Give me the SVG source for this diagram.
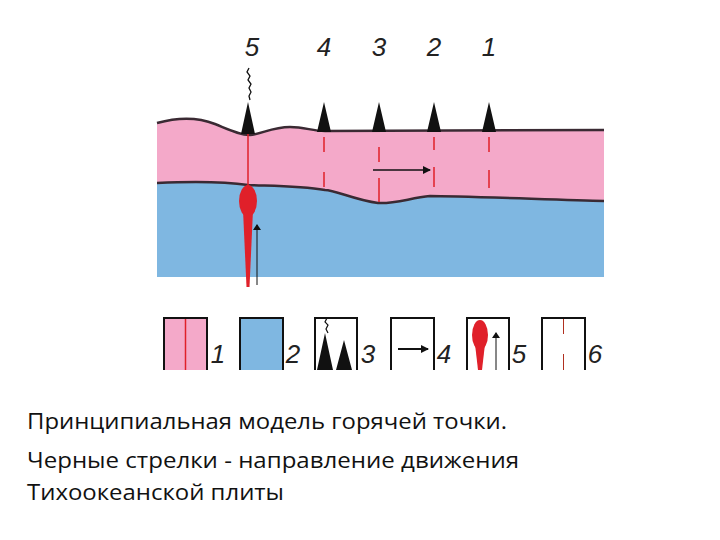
<svg xmlns="http://www.w3.org/2000/svg" width="720" height="540" viewBox="0 0 720 540">
<style>
.num{font-family:"Liberation Sans Narrow","Liberation Sans",sans-serif;font-style:italic;font-size:26px;fill:#222}
.cap{font-family:"Open Sans","Liberation Sans",sans-serif;font-size:21px;fill:#111}
.red{stroke:#e0202a;stroke-width:1.5;fill:none}
.box{stroke:#111;stroke-width:2;fill:none}
.vol{fill:#111}
</style>
<defs>
<marker id="ah" markerWidth="8" markerHeight="8" refX="7" refY="4" orient="auto" markerUnits="userSpaceOnUse"><path d="M0,0 L8,4 L0,8 Z" fill="#111"/></marker>
<marker id="ahs" markerWidth="6" markerHeight="8" refX="5" refY="4" orient="auto" markerUnits="userSpaceOnUse"><path d="M0,0 L6,4 L0,8 Z" fill="#111"/></marker>
</defs>
<g id="mantle"><rect x="157" y="180" width="447" height="97" fill="#7fb7e1"/></g>
<g id="plate">
<path d="M157,123 C175,118 195,116 215,124 C230,130 240,135 250,135 C262,134 272,127 290,127 C305,127 312,131 325,131 L604,130 L604,201 C560,200 460,196 430,196 C410,198 395,204 378,203 C355,200 335,190 325,190 C300,186 270,186 248,185 C220,181 180,182 157,183 Z" fill="#f4a9c9"/>
<path d="M157,123 C175,118 195,116 215,124 C230,130 240,135 250,135 C262,134 272,127 290,127 C305,127 312,131 325,131 L604,130" stroke="#3a2a33" stroke-width="2.5" fill="none"/>
<path d="M157,183 C180,182 220,181 248,185 C270,186 300,186 325,190 C335,190 355,200 378,203 C395,204 410,198 430,196 C460,196 560,200 604,201" stroke="#3a2a33" stroke-width="2.5" fill="none"/>
</g>
<g id="redlines">
<line class="red" x1="248" y1="133" x2="248" y2="190"/>
<path class="red" d="M324,137v15M324,172v15M379,147v15M379,178v24M434,137v13M434,167v20M489,137v15M489,170v18"/>
</g>
<g id="plume">
<ellipse cx="248" cy="201" rx="9" ry="16" fill="#e0202a"/>
<path d="M243,210 L253,210 L249.5,287 L246.5,287 Z" fill="#e0202a"/>
</g>
<g id="volcanoes">
<path class="vol" d="M241,134 L248,102 L255,134Z M317,132 L324,102 L331,132Z M372,132 L379,102 L386,132Z M427,132 L434,102 L441,132Z M482,132 L489,102 L496,132Z"/>
<path d="M249,68 l-2,4 l3,4 l-2,4 l3,4 l-2,4 l2,4 l-2,4 l1,4" stroke="#111" stroke-width="1.3" fill="none"/>
</g>
<g id="connectors">
<line x1="373" y1="170" x2="430" y2="170" stroke="#111" stroke-width="1.5" marker-end="url(#ah)"/>
<line x1="257" y1="285" x2="257" y2="225" stroke="#111" stroke-width="1" marker-end="url(#ahs)"/>
</g>
<g id="labels">
<text class="num" x="252" y="56" text-anchor="middle">5</text>
<text class="num" x="324" y="56" text-anchor="middle">4</text>
<text class="num" x="379" y="56" text-anchor="middle">3</text>
<text class="num" x="434" y="56" text-anchor="middle">2</text>
<text class="num" x="489" y="56" text-anchor="middle">1</text>
</g>
<g id="legend">
<rect x="164" y="318" width="43" height="52" fill="#f4a9c9"/>
<line class="red" x1="185.5" y1="318" x2="185.5" y2="370" stroke-width="1"/>
<rect x="240" y="318" width="43" height="52" fill="#7fb7e1"/>
<path class="vol" d="M317,370 L325,333 L333,370Z M336,370 L344,340 L352,370Z"/>
<path d="M327,318 l-2,4 l3,3 l-2,4 l2,4" stroke="#111" stroke-width="1.2" fill="none"/>
<line x1="398" y1="349" x2="428" y2="349" stroke="#111" stroke-width="2" marker-end="url(#ah)"/>
<ellipse cx="480" cy="335" rx="8" ry="15" fill="#e0202a"/>
<path d="M475,344 L485,344 L482,370 L478,370 Z" fill="#e0202a"/>
<line x1="496" y1="370" x2="496" y2="333" stroke="#111" stroke-width="1" marker-end="url(#ahs)"/>
<line x1="563.5" y1="318" x2="563.5" y2="334" stroke="#b03020" stroke-width="1"/>
<line x1="563.5" y1="354" x2="563.5" y2="370" stroke="#b03020" stroke-width="1"/>
<path class="box" d="M164,370V318H207V370M240,370V318H283V370M315,370V318H357V370M391,370V318H434V370M467,370V318H509V370M542,370V318H585V370"/>
<text class="num" x="218" y="363" text-anchor="middle">1</text>
<text class="num" x="293" y="363" text-anchor="middle">2</text>
<text class="num" x="368" y="363" text-anchor="middle">3</text>
<text class="num" x="444" y="363" text-anchor="middle">4</text>
<text class="num" x="519" y="363" text-anchor="middle">5</text>
<text class="num" x="595" y="363" text-anchor="middle">6</text>
</g>
<g id="caption">
<text class="cap" x="27" y="429" textLength="480" lengthAdjust="spacingAndGlyphs">Принципиальная модель горячей точки.</text>
<text class="cap" x="27" y="468" textLength="492" lengthAdjust="spacingAndGlyphs">Черные стрелки - направление движения</text>
<text class="cap" x="27" y="500" textLength="257" lengthAdjust="spacingAndGlyphs">Тихоокеанской плиты</text>
</g>
</svg>
